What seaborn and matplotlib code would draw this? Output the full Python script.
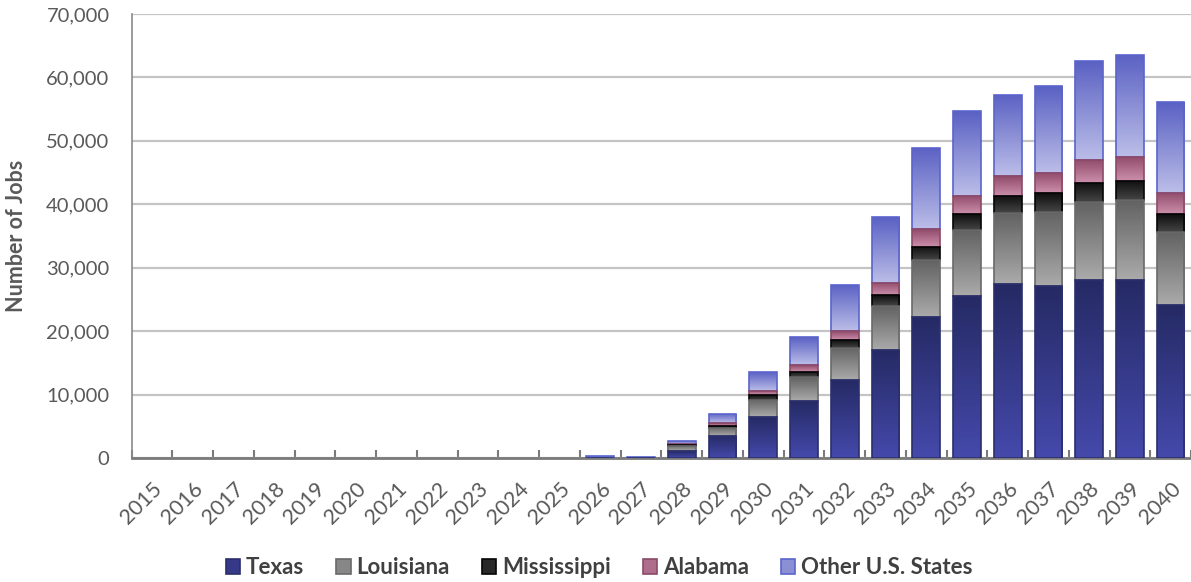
import numpy as np
import pandas as pd
import matplotlib
matplotlib.use("Agg")
import matplotlib.pyplot as plt
from matplotlib.colors import LinearSegmentedColormap, to_rgb
from matplotlib.patches import Patch
from matplotlib.ticker import FuncFormatter, MultipleLocator, FixedLocator
import seaborn as sns

# ---- data (jobs per year, by state) ----
years = list(range(2015, 2041))
texas = [0] * 11 + [60, 50, 1100, 3500, 6500, 9000, 12300, 17100, 22300,
                    25600, 27400, 27100, 28100, 28100, 24200]
louisiana = [0] * 11 + [0, 0, 800, 1300, 2700, 3700, 5100, 6900, 8900,
                        10350, 11150, 11750, 12250, 12550, 11400]
mississippi = [0] * 11 + [0, 0, 200, 300, 700, 900, 1200, 1650, 2100,
                          2500, 2750, 2850, 3000, 3000, 2800]
alabama = [0] * 11 + [0, 0, 150, 380, 650, 1050, 1400, 2000, 2750,
                      2900, 3150, 3300, 3700, 3800, 3400]
other_states = [0] * 11 + [250, 180, 450, 1470, 2950, 4400, 7350, 10300, 12800,
                           13350, 12800, 13650, 15500, 16150, 14250]

series_names = ["Texas", "Louisiana", "Mississippi", "Alabama", "Other U.S. States"]
series_values = [texas, louisiana, mississippi, alabama, other_states]

# top colour, bottom colour, edge colour for each series
styles = {
    "Texas": ("#252a64", "#4549ab", "#2b2f6c"),
    "Louisiana": ("#626262", "#ababab", "#6a6a6a"),
    "Mississippi": ("#0e0e0e", "#454545", "#050505"),
    "Alabama": ("#904a6a", "#cc90ab", "#8c4a68"),
    "Other U.S. States": ("#5a61c3", "#bcbee8", "#5b64cc"),
}

df = pd.DataFrame({"Year": [str(y) for y in years]})
for name, vals in zip(series_names, series_values):
    df[name] = vals
cum = df[series_names].cumsum(axis=1)
bottoms = cum.shift(1, axis=1).fillna(0)

sns.set_theme(style="white")
plt.rcParams["font.family"] = ["Lato", "DejaVu Sans"]

fig = plt.figure(figsize=(11.91, 5.82), dpi=100)
ax = fig.add_axes([0.1106, 0.213, 0.8894, 0.763])

bar_width = 0.68
grad = np.linspace(1, 0, 256).reshape(-1, 1)

# draw cumulative layers from the top series down so each lower layer covers the one above
for layer, name in enumerate(reversed(series_names)):
    top_c, bot_c, edge_c = styles[name]
    z = 3 + layer
    n_before = len(ax.patches)
    sns.barplot(data=df, x="Year", y=cum[name], ax=ax, color=top_c,
                width=bar_width, errorbar=None, zorder=z)
    new_patches = ax.patches[n_before:]
    cmap = LinearSegmentedColormap.from_list(name, [bot_c, top_c])
    for i, p in enumerate(new_patches):
        seg_top = cum[name].iloc[i]
        seg_bot = bottoms[name].iloc[i]
        if seg_top - seg_bot <= 0:
            p.set_visible(False)
            continue
        p.set_facecolor("none")
        p.set_edgecolor(edge_c)
        p.set_linewidth(1.2)
        x0 = p.get_x()
        x1 = x0 + p.get_width()
        im = ax.imshow(grad, cmap=cmap, extent=[x0, x1, seg_bot, seg_top],
                       aspect="auto", interpolation="bicubic", zorder=z - 0.01)
        im.set_clip_path(p)
        # outline only this segment
        p.set_y(seg_bot)
        p.set_height(seg_top - seg_bot)
        p.set_zorder(z)

ax.set_xlim(-0.5, len(years) - 0.5)
ax.set_ylim(0, 70000)

# axes styling
text_gray = "#595959"
ax.yaxis.set_major_locator(MultipleLocator(10000))
ax.yaxis.set_major_formatter(FuncFormatter(lambda v, _: f"{int(v):,}"))
ax.grid(axis="y", color="#c4c4c4", linewidth=1.6, zorder=0)
ax.set_axisbelow(True)
ax.tick_params(axis="y", length=0, labelsize=14.5, labelcolor=text_gray, pad=16)

ax.set_xticks(range(len(years)))
ax.set_xticklabels([str(y) for y in years], rotation=45, ha="right",
                   rotation_mode="anchor")
ax.tick_params(axis="x", which="major", length=0, labelsize=15.5,
               labelcolor=text_gray, pad=15)
ax.xaxis.set_minor_locator(FixedLocator(np.arange(-0.5, len(years), 1.0)))
ax.tick_params(axis="x", which="minor", direction="in", length=6, width=1.5,
               color="#7a7a7a", bottom=True)

for side in ["top", "right"]:
    ax.spines[side].set_visible(False)
ax.spines["bottom"].set_color("#7a7a7a")
ax.spines["bottom"].set_linewidth(2)
ax.spines["left"].set_color("#8a8a8a")
ax.spines["left"].set_linewidth(1.2)

ax.set_xlabel("")
ax.set_ylabel("Number of Jobs", fontsize=15.5, fontweight="bold", color=text_gray,
              labelpad=14)

# legend
handles = []
for name in series_names:
    top_c, bot_c, edge_c = styles[name]
    mid = tuple((np.array(to_rgb(top_c)) + np.array(to_rgb(bot_c))) / 2)
    handles.append(Patch(facecolor=mid, edgecolor=edge_c, linewidth=1.2, label=name))
fig.legend(handles=handles, loc="lower center", bbox_to_anchor=(0.503, -0.028),
           ncol=5, frameon=False, handlelength=0.65, handleheight=0.65,
           handletextpad=0.25, columnspacing=1.45,
           prop={"size": 16, "weight": "bold"}, labelcolor="#404040")

fig.savefig("out.png", dpi=100)
